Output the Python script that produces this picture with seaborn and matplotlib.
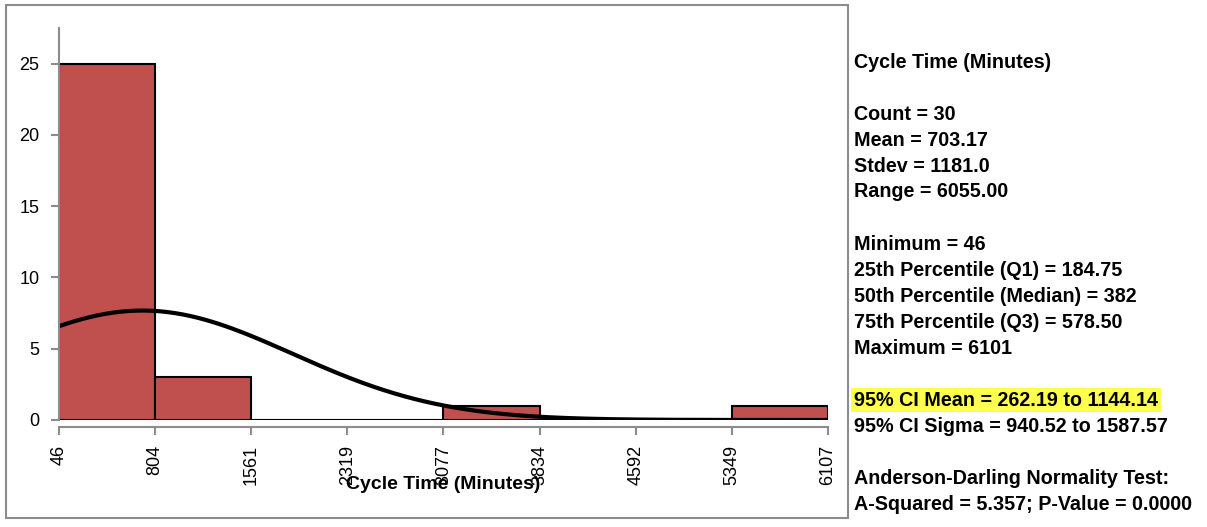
import numpy as np
import matplotlib
matplotlib.use("Agg")
import matplotlib.pyplot as plt
import seaborn as sns
from matplotlib.patches import Rectangle

# histogram data
bin_edges = [46, 803.625, 1561.25, 2318.875, 3076.5, 3834.125, 4591.75, 5349.375, 6107]
bin_counts = [25, 3, 0, 0, 1, 0, 0, 1]
tick_labels = ["46", "804", "1561", "2319", "3077", "3834", "4592", "5349", "6107"]

# summary stats
n_obs = 30
mean_val = 703.17
std_val = 1181.0

stats_lines = [
    "Cycle Time (Minutes)",
    "",
    "Count = 30",
    "Mean = 703.17",
    "Stdev = 1181.0",
    "Range = 6055.00",
    "",
    "Minimum = 46",
    "25th Percentile (Q1) = 184.75",
    "50th Percentile (Median) = 382",
    "75th Percentile (Q3) = 578.50",
    "Maximum = 6101",
    "",
    "95% CI Mean = 262.19 to 1144.14",
    "95% CI Sigma = 940.52 to 1587.57",
    "",
    "Anderson-Darling Normality Test:",
    "A-Squared = 5.357; P-Value = 0.0000",
]
highlight_line = "95% CI Mean = 262.19 to 1144.14"

sns.set_style("white")
plt.rcParams["font.family"] = ["Liberation Sans", "DejaVu Sans"]
plt.rcParams["text.color"] = "black"
plt.rcParams["axes.labelcolor"] = "black"
plt.rcParams["xtick.color"] = "black"
plt.rcParams["ytick.color"] = "black"

W, H = 1207, 527
fig = plt.figure(figsize=(W / 100, H / 100), dpi=100)
ax = fig.add_axes([59 / W, 1 - 420 / H, (828 - 59) / W, (420 - 28) / H])

# outer chart frame
fig.patches.append(Rectangle((6 / W, 1 - 518 / H), 842 / W, 513 / H,
                             transform=fig.transFigure, fill=False,
                             edgecolor="#8c8c8c", linewidth=1.5))

centers = [(bin_edges[i] + bin_edges[i + 1]) / 2 for i in range(len(bin_counts))]
sns.histplot(x=centers, weights=bin_counts, bins=bin_edges, ax=ax,
             color="#C0504D", alpha=1, edgecolor="black", linewidth=1.5)

# normal curve scaled to counts
bw = bin_edges[1] - bin_edges[0]
xs = np.linspace(bin_edges[0], bin_edges[-1], 300)
ys = n_obs * bw / (std_val * np.sqrt(2 * np.pi)) * np.exp(-0.5 * ((xs - mean_val) / std_val) ** 2)
sns.lineplot(x=xs, y=ys, ax=ax, color="black", linewidth=3)

sns.despine(ax=ax)
for s in ["left", "bottom"]:
    ax.spines[s].set_color("#8c8c8c")
    ax.spines[s].set_linewidth(1.5)
ax.spines["bottom"].set_position(("outward", 5))

ax.set_xlim(bin_edges[0], bin_edges[-1])
ax.set_ylim(0, 27.5)
ax.set_xticks(bin_edges)
ax.set_xticklabels(tick_labels, rotation=90, fontsize=13)
ax.set_yticks([0, 5, 10, 15, 20, 25])
ax.tick_params(axis="y", labelsize=13, length=6, color="#8c8c8c", width=1.5, left=True, pad=8)
ax.tick_params(axis="x", length=6, color="#8c8c8c", width=1.5, bottom=True, pad=7)
ax.set_ylabel("")

ax.set_xlabel("Cycle Time (Minutes)", fontsize=14, fontweight="bold")
ax.xaxis.set_label_coords(0.5, -0.165)
ax.xaxis.label.set_va("center")

# stats panel
y0 = 62
for i, line in enumerate(stats_lines):
    if not line:
        continue
    y = y0 + i * 26
    kw = {}
    if line == highlight_line:
        kw["bbox"] = dict(boxstyle="square,pad=0.15", facecolor="#FFFF4D", edgecolor="none")
    fig.text(854 / W, 1 - y / H, line, fontsize=14.2, fontweight="bold",
             va="center", ha="left", **kw)

fig.savefig("out.png", dpi=100)
